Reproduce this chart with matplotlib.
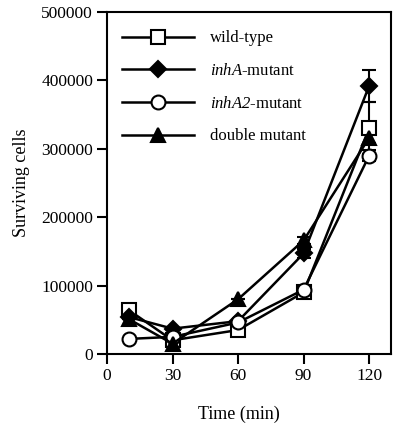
import matplotlib
matplotlib.use("Agg")
import matplotlib.pyplot as plt

plt.rcParams['font.family'] = ['Liberation Serif', 'DejaVu Serif']
plt.rcParams['mathtext.fontset'] = 'custom'
plt.rcParams['mathtext.rm'] = 'Liberation Serif'
plt.rcParams['mathtext.it'] = 'Liberation Serif:italic'
plt.rcParams['mathtext.sf'] = 'Liberation Serif:italic'

time = [10, 30, 60, 90, 120]
wild_type = [64000, 20000, 35000, 90000, 330000]
wild_type_err = [0, 0, 0, 4000, 38000]
inhA = [54000, 37000, 48000, 147000, 392000]
inhA_err = [0, 0, 0, 7000, 23000]
inhA2 = [22000, 25000, 46000, 94000, 290000]
inhA2_err = [0, 0, 0, 0, 8000]
double = [51000, 15000, 80000, 166000, 316000]
double_err = [0, 0, 0, 5000, 8000]

labels = ['wild-type', r'$\mathsf{inhA}$-mutant', r'$\mathsf{inhA2}$-mutant', 'double mutant']
xticks = [0, 30, 60, 90, 120]
yticks = [0, 100000, 200000, 300000, 400000, 500000]

fig = plt.figure(figsize=(4.0, 4.28), dpi=100)
ax = fig.add_axes([0.2675, 0.173, 0.71, 0.799])

series = [
    (wild_type, wild_type_err, 's', 'white'),
    (inhA, inhA_err, 'D', 'black'),
    (inhA2, inhA2_err, 'o', 'white'),
    (double, double_err, '^', 'black'),
]
sizes = {'s': 10, 'D': 8, 'o': 10, '^': 10}
handles = []
for (vals, err, m, fc), lab in zip(series, labels):
    ax.errorbar(time, vals, yerr=err, fmt='none', ecolor='black', elinewidth=1.5,
                capsize=5, capthick=1.5, zorder=2)
    h, = ax.plot(time, vals, color='black', lw=1.8, marker=m, markersize=sizes[m],
                 markerfacecolor=fc, markeredgecolor='black', markeredgewidth=1.5,
                 label=lab, zorder=3)
    handles.append(h)

ax.set_xlim(0, 130)
ax.set_ylim(0, 500000)
ax.set_xticks(xticks)
ax.set_yticks(yticks)
ax.set_xticklabels([str(t) for t in xticks])
ax.set_yticklabels([str(t) for t in yticks])
ax.tick_params(direction='out', length=7, width=1.5, labelsize=12.5, pad=3)
for s in ax.spines.values():
    s.set_linewidth(1.5)
ax.set_xlabel('Time (min)', fontsize=13, labelpad=16)
ax.xaxis.set_label_coords(0.465, -0.15)
ax.set_ylabel('Surviving cells', fontsize=13, labelpad=8)

leg = ax.legend(handles=handles, loc='upper left', frameon=False, fontsize=12,
                handlelength=4.3, labelspacing=1.0, bbox_to_anchor=(0.0, 0.99),
                borderaxespad=0.5, handletextpad=1.0)

fig.savefig('out.png', dpi=100)
